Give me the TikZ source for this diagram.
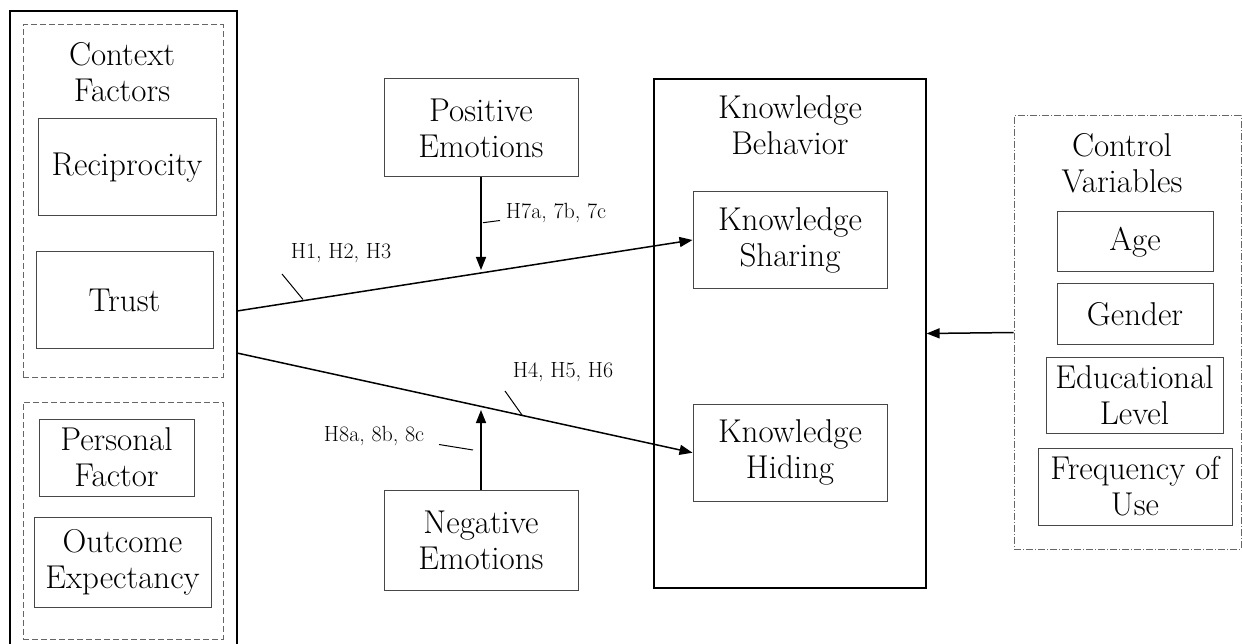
\documentclass[tikz,border=0pt]{standalone}
\usepackage{fontspec}
\usetikzlibrary{arrows.meta,calc}
\newcommand\mfont{\fontsize{33}{36}\selectfont}
\newcommand\lfont{\fontsize{22}{26}\selectfont}
\begin{document}
\begin{tikzpicture}[x=1pt,y=-1pt,
  inbox/.style={draw=black!72, line width=1pt, inner sep=0pt, align=center, font=\mfont},
  outbox/.style={draw=black, line width=1.2pt, inner sep=0pt},
  dashbox/.style={draw=black!60, line width=1pt, dash pattern=on 6pt off 3pt, inner sep=0pt},
  dotbox/.style={draw=black!60, line width=1pt, dash pattern=on 7pt off 2pt on 1pt off 2pt, inner sep=0pt},
  title/.style={align=center, font=\mfont, inner sep=0pt},
  lbl/.style={font=\lfont, inner sep=0pt},
  arr/.style={draw=black, line width=1.5pt, -{Triangle[length=13pt,width=10pt]}},
  tick/.style={draw=black, line width=1pt}]
\useasboundingbox (0,0) rectangle (1242,644);
\fill[white] (0,0) rectangle (1242,644);
% left column
\node[outbox, minimum width=227pt, minimum height=639pt] (ctx) at (123.5,330.5) {};
\node[dashbox, minimum width=200pt, minimum height=352pt] (cf) at (123,201) {};
\node[dashbox, minimum width=200pt, minimum height=237pt] (pf) at (123,520.5) {};
\node[title] (cft) at (122,72) {Context\\Factors};
\node[inbox, minimum width=178pt, minimum height=97pt] (recip) at (127,167.5) {Reciprocity};
\node[inbox, minimum width=177pt, minimum height=96pt] (trust) at (124.5,300) {Trust};
\node[inbox, minimum width=155pt, minimum height=77pt] (pers) at (116.5,457.5) {Personal\\Factor};
\node[inbox, minimum width=177pt, minimum height=90pt] (outc) at (122.5,562) {Outcome\\Expectancy};
% middle
\node[inbox, minimum width=194pt, minimum height=98pt] (pos) at (481,128) {Positive\\Emotions};
\node[inbox, minimum width=194pt, minimum height=100pt] (neg) at (481,540) {Negative\\Emotions};
% knowledge behavior
\node[outbox, minimum width=272pt, minimum height=509pt] (kb) at (790,333.5) {};
\node[title] (kbt) at (790,125) {Knowledge\\Behavior};
\node[inbox, minimum width=194pt, minimum height=97pt] (share) at (790,240) {Knowledge\\Sharing};
\node[inbox, minimum width=194pt, minimum height=97pt] (hide) at (790,452.7) {Knowledge\\Hiding};
% control variables
\node[dotbox, minimum width=227pt, minimum height=433pt] (ctrl) at (1127.5,332.5) {};
\node[title] (ctrlt) at (1122,163) {Control\\Variables};
\node[inbox, minimum width=156pt, minimum height=60pt] (age) at (1135,242) {Age};
\node[inbox, minimum width=156pt, minimum height=60pt] (gender) at (1135,314) {Gender};
\node[inbox, minimum width=177pt, minimum height=76pt] (edu) at (1134.5,395) {Educational\\Level};
\node[inbox, minimum width=194pt, minimum height=77pt] (freq) at (1135,486.5) {Frequency of\\Use};
% connectors
\coordinate (s1) at (237,311);
\coordinate (s2) at (237,353);
\coordinate (m1) at (481,270);
\coordinate (m2) at (481,410);
\draw[arr] (s1) -- (share.west);
\draw[arr] (s2) -- (hide.west);
\draw[arr] (pos.south) -- (m1);
\draw[arr] (neg.north) -- (m2);
\draw[arr] (ctrl.west) -- (kb.east);
% labels
\node[lbl, anchor=base] (h1) at (341,259) {H1, H2, H3};
\node[lbl, anchor=base] (h7) at (556,219) {H7a, 7b, 7c};
\node[lbl, anchor=base] (h4) at (563,377) {H4, H5, H6};
\node[lbl, anchor=base] (h8) at (374,441) {H8a, 8b, 8c};
\coordinate (t1a) at (282,274); \coordinate (t1b) at (303,299.5);
\coordinate (t7a) at (483,222.7); \coordinate (t7b) at (500,220.5);
\coordinate (t4a) at (505,391); \coordinate (t4b) at (522,415);
\coordinate (t8a) at (439,444.5); \coordinate (t8b) at (473,450);
\draw[tick] (t1a) -- (t1b);
\draw[tick] (t7a) -- (t7b);
\draw[tick] (t4a) -- (t4b);
\draw[tick] (t8a) -- (t8b);
\end{tikzpicture}
\end{document}
